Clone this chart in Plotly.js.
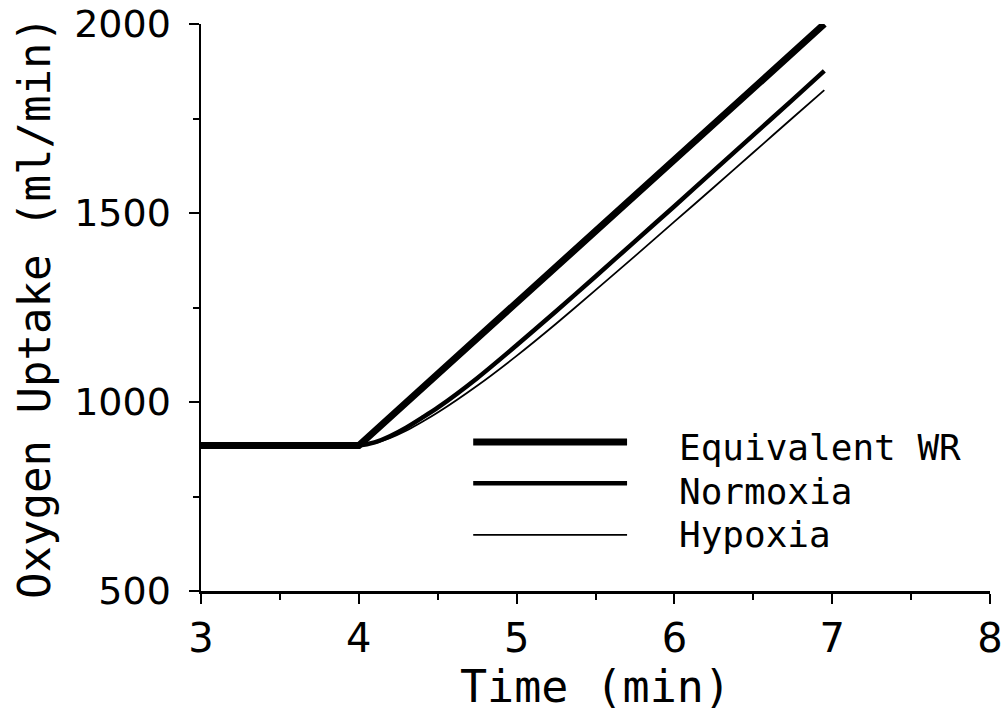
<!DOCTYPE html>
<html>
<head>
<meta charset="utf-8">
<script src="https://cdn.plot.ly/plotly-3.0.1.min.js"></script>
<style>html,body{margin:0;padding:0;background:#fff;}#chart{width:1002px;height:713px;}</style>
</head>
<body>
<div id="chart"></div>
<script>
// Time (min)
const timeEq = [3, 4, 6.95];
const vo2Eq = [885, 885, 2000];

const timeCurve = [3, 4, 4.1, 4.2, 4.3, 4.4, 4.5, 4.75, 5, 5.25, 5.5, 5.75, 6, 6.25, 6.5, 6.75, 6.95];
const vo2Normoxia = [885, 885, 893, 910, 932, 958, 985, 1063, 1150, 1240, 1332, 1425, 1518, 1612, 1706, 1800, 1876];
const vo2Hypoxia  = [885, 885, 891, 905, 924, 947, 972, 1043, 1122, 1207, 1296, 1386, 1477, 1568, 1660, 1752, 1825];

const seriesNames = ['Equivalent WR', 'Normoxia', 'Hypoxia'];
const xTitle = 'Time (min)';
const yTitle = 'Oxygen Uptake (ml/min)';

const monoFont = 'DejaVu Sans Mono, monospace';
const tickFont = 'DejaVu Sans, sans-serif';

const traces = [
  {x: timeEq, y: vo2Eq, name: seriesNames[0], mode: 'lines', line: {color: '#000', width: 7}},
  {x: timeCurve, y: vo2Normoxia, name: seriesNames[1], mode: 'lines', line: {color: '#000', width: 4.5, shape: 'spline', smoothing: 0.6}},
  {x: timeCurve, y: vo2Hypoxia, name: seriesNames[2], mode: 'lines', line: {color: '#000', width: 1.8, shape: 'spline', smoothing: 0.6}}
];

// legend drawn manually (long sample lines)
const legendWidths = [7, 4.5, 1.8];
const legendLineY = [0.263, 0.190, 0.099];
const legendTextY = [0.253, 0.176, 0.099];
const shapes = seriesNames.map((n, i) => ({
  type: 'line', xref: 'paper', yref: 'paper',
  x0: 0.345, x1: 0.540, y0: legendLineY[i], y1: legendLineY[i],
  line: {color: '#000', width: legendWidths[i]}
}));
const annotations = seriesNames.map((n, i) => ({
  text: n, xref: 'paper', yref: 'paper', x: 0.603, y: legendTextY[i],
  xanchor: 'left', yanchor: 'middle', showarrow: false,
  font: {family: monoFont, size: 36, color: '#000'}
}));

const layout = {
  width: 1002, height: 713,
  margin: {l: 201, r: 12, t: 24, b: 122},
  paper_bgcolor: '#fff', plot_bgcolor: '#fff',
  showlegend: false,
  xaxis: {
    range: [3, 8], dtick: 1, tick0: 3,
    showgrid: false, zeroline: false,
    showline: true, linecolor: '#000', linewidth: 2.5,
    ticks: 'outside', ticklen: 10, tickwidth: 2, tickcolor: '#000',
    minor: {dtick: 0.5, ticks: 'outside', ticklen: 6, tickwidth: 2, tickcolor: '#000', showgrid: false},
    tickfont: {family: tickFont, size: 40, color: '#000'},
    ticklabeloverflow: 'allow',
    title: {text: xTitle, font: {family: monoFont, size: 45, color: '#000'}, standoff: 12}
  },
  yaxis: {
    range: [500, 2000], dtick: 500, tick0: 500,
    showgrid: false, zeroline: false,
    showline: true, linecolor: '#000', linewidth: 2.5,
    ticks: 'outside', ticklen: 10, tickwidth: 2, tickcolor: '#000',
    minor: {dtick: 250, ticks: 'outside', ticklen: 6, tickwidth: 2, tickcolor: '#000', showgrid: false},
    tickfont: {family: tickFont, size: 38, color: '#000'},
    ticklabelstandoff: 10,
    ticklabeloverflow: 'allow',
    title: {text: yTitle, font: {family: monoFont, size: 44, color: '#000'}, standoff: 10}
  },
  shapes: shapes,
  annotations: annotations
};

Plotly.newPlot('chart', traces, layout, {displayModeBar: false, staticPlot: true});
</script>
</body>
</html>
